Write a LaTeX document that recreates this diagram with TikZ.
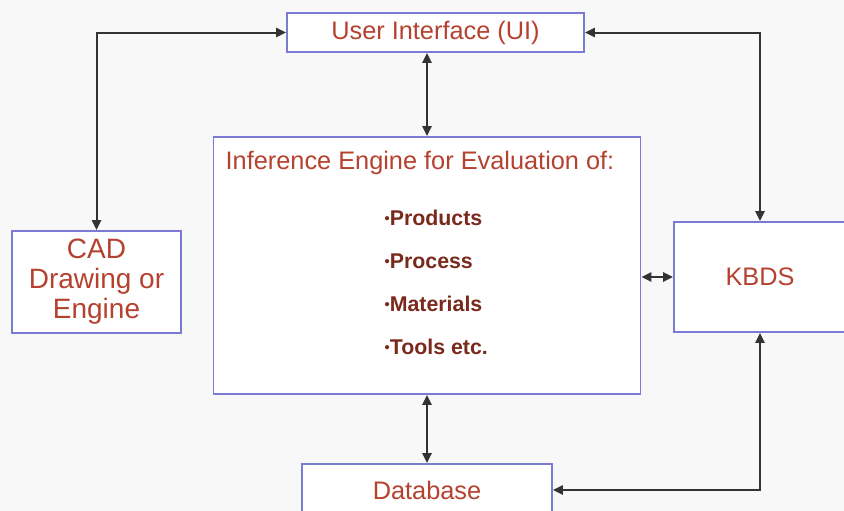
\documentclass[tikz,border=0pt]{standalone}
\usepackage{fontspec}
\setmainfont{Liberation Sans}
\usetikzlibrary{arrows.meta,positioning,calc}
\definecolor{boxblue}{HTML}{7B7BD6}
\definecolor{txtred}{HTML}{B5412F}
\definecolor{itemred}{HTML}{7A2A1C}
\definecolor{linegray}{HTML}{333333}
\definecolor{bggray}{HTML}{F8F8F8}
\newcommand{\smalldot}{{\fontsize{11}{11}\selectfont\raisebox{1.6pt}{•}}}

\begin{document}
\begin{tikzpicture}[x=0.75pt, y=-0.75pt,
  block/.style={draw=boxblue, line width=1.4pt, fill=white, text=txtred,
    font=\fontsize{19}{22}\selectfont, align=center, inner sep=0pt},
  link/.style={draw=linegray, line width=1.5pt,
    {Triangle[length=7.5pt,width=7pt]}-{Triangle[length=7.5pt,width=7pt]}},
  item/.style={anchor=west, text=itemred, font=\fontsize{16}{19}\selectfont\bfseries},
]
\fill[bggray] (0,0) rectangle (844,511);
\useasboundingbox (0,0) rectangle (844,511);

% boxes
\node[block, minimum width=222.8pt, minimum height=29.3pt] (UI) at (435.5,32.5) {User Interface (UI)};
\node[block, minimum width=126.8pt, minimum height=76.5pt,
  font=\fontsize{21}{22.5}\selectfont] (CAD) at (96.5,282) {CAD\\Drawing or\\Engine};
\node[block, minimum width=320.3pt, minimum height=192.8pt] (Inf) at (427,265.5) {};
\node[block, minimum width=129pt, minimum height=82.5pt] (KBDS) at (760,277) {KBDS};
\node[block, minimum width=187.5pt, minimum height=39pt] (DB) at (427,490) {Database};

% contents of the inference engine
\node[text=txtred, font=\fontsize{19}{22}\selectfont] (InfTitle) at (420,163) {Inference Engine for Evaluation of:};
\foreach \txt [count=\i] in {Products, Process, Materials, Tools etc.}
  \node[item] (item\i) at (380,175+43*\i) {\smalldot\txt};

% connectors
\draw[link] (CAD.north) |- (UI.west);
\draw[link] (UI.east) -| (KBDS.north);
\draw[link] (Inf.north |- UI.south) -- (Inf.north);
\draw[link] (Inf.east |- KBDS.west) -- (KBDS.west);
\draw[link] (Inf.south) -- (DB.north);
\draw[link] (KBDS.south) |- (DB.east);
\end{tikzpicture}
\end{document}
